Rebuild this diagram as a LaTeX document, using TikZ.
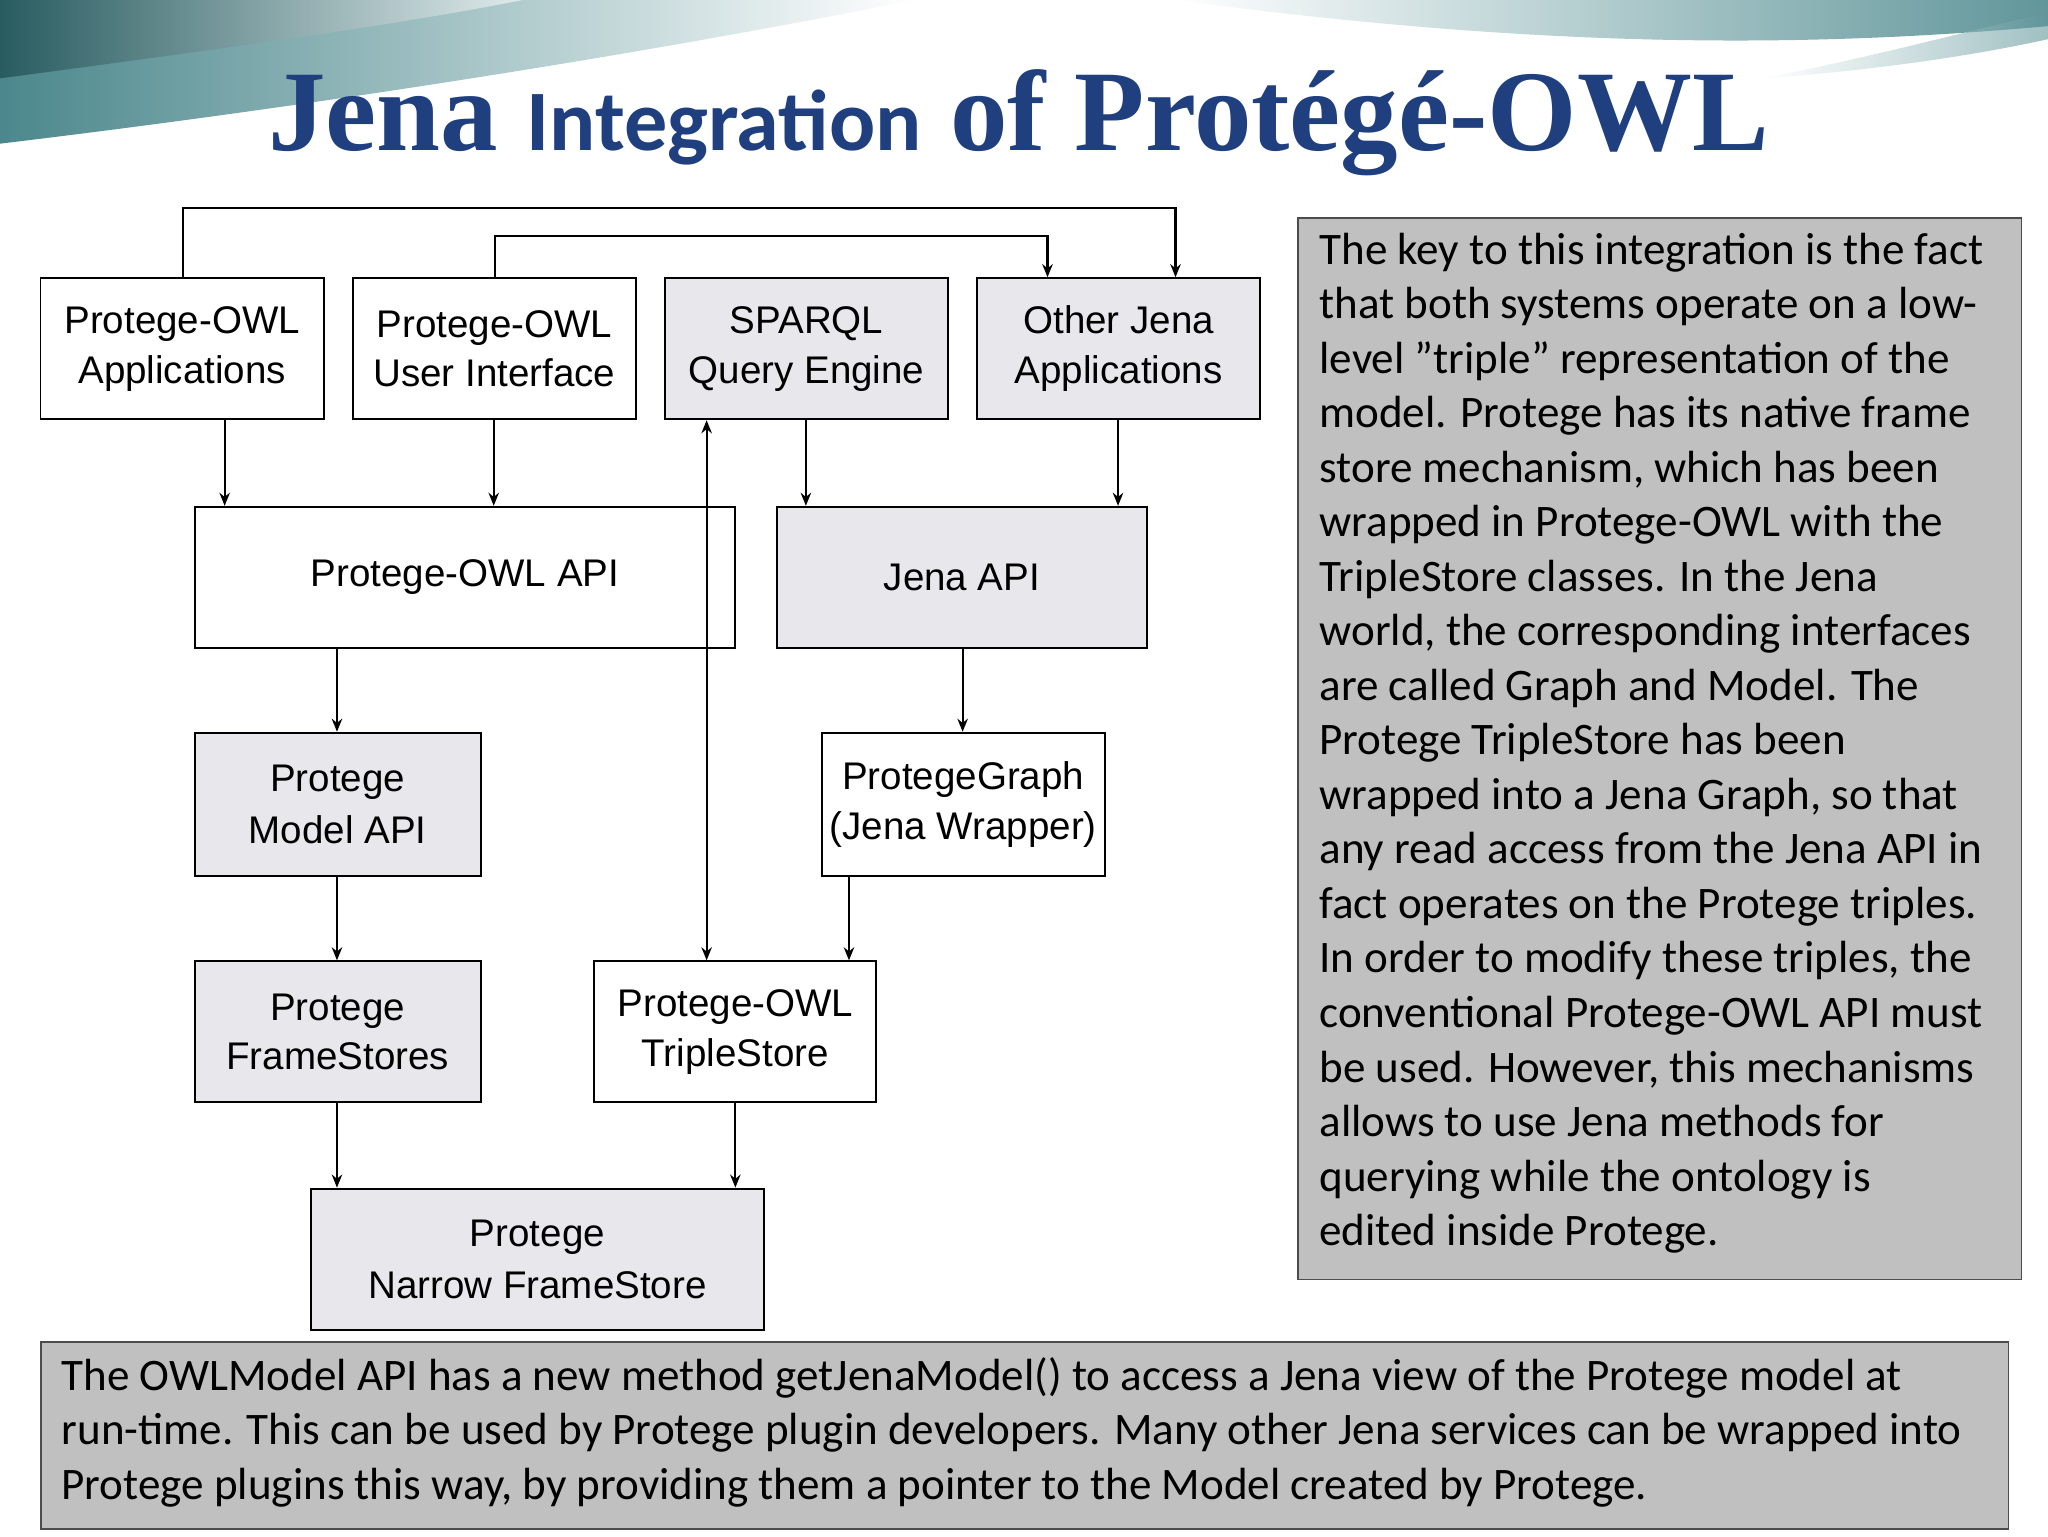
\documentclass[tikz,border=0pt]{standalone}
\usepackage{fontspec}
\setmainfont{Carlito}
\newfontfamily\boxfont{Liberation Sans}
\newfontfamily\titleserif{Liberation Serif}
\newfontfamily\titlesans{Carlito}
\usetikzlibrary{arrows.meta}
\definecolor{boxgray}{HTML}{E8E8EC}
\definecolor{txtgray}{HTML}{C0C0C0}
\definecolor{titleblue}{HTML}{1F3F7F}
\definecolor{teal1}{HTML}{1E6A70}
\tikzset{
 bx/.style={draw=black, line width=1.5pt, inner sep=0pt},
 wbox/.style={bx, fill=white},
 gbox/.style={bx, fill=boxgray},
 ar/.style={line width=1.6pt, -{Stealth[length=10pt,width=8pt]}},
 lb/.style={font=\boxfont\fontsize{29.5}{38}\selectfont, align=center, inner sep=0pt},
}
\newcommand{\mybox}[6]{\node[#1, minimum width=#4-#2, minimum height=#5-#3] (#6) at ({(#2+#4)/2},{(#3+#5)/2}) {};}
\begin{document}
\begin{tikzpicture}[x=1pt,y=-1pt]
\useasboundingbox (0,0) rectangle (1568,1176);
\fill[white] (0,0) rectangle (1568,1176);
% top decoration
\shade[left color=teal1, right color=white, opacity=0.8] (0,0) -- (700,0) .. controls (500,40) and (250,80) .. (0,110) -- cycle;
\shade[left color=teal1!60!black, right color=white, opacity=0.6] (0,0) -- (400,0) .. controls (300,20) and (150,40) .. (0,60) -- cycle;
\shade[left color=white, right color=teal1, opacity=0.7] (900,0) -- (1568,0) -- (1568,20) .. controls (1400,35) and (1200,40) .. (900,0) -- cycle;
\shade[left color=white, right color=teal1!70, opacity=0.6] (1350,60) .. controls (1450,40) and (1520,20) .. (1568,10) -- (1568,30) .. controls (1500,45) and (1420,55) .. (1350,60) -- cycle;
% title
\node[anchor=base west, text=titleblue, inner sep=0pt] (title) at (205,115)
 {\titleserif\bfseries\fontsize{88}{90}\selectfont Jena {\titlesans\bfseries\fontsize{66}{70}\selectfont Integration} of Protégé-OWL};
% boxes
\mybox{wbox}{31}{213}{248}{321}{pa}
\mybox{wbox}{270}{213}{487}{321}{ui}
\mybox{gbox}{509}{213}{726}{321}{sq}
\mybox{gbox}{748}{213}{965}{321}{oj}
\mybox{wbox}{149}{388}{563}{496}{api}
\mybox{gbox}{595}{388}{878}{496}{japi}
\mybox{gbox}{149}{561}{368}{671}{pma}
\mybox{wbox}{629}{561}{846}{671}{pg}
\mybox{gbox}{149}{736}{368}{844}{pfs}
\mybox{wbox}{455}{736}{671}{844}{ts}
\mybox{gbox}{238}{910}{585}{1018}{nfs}
\node[lb] at (pa) {Protege-OWL\\Applications};
\node[lb] at (ui) {Protege-OWL\\User Interface};
\node[lb] at (sq) {SPARQL\\Query Engine};
\node[lb] at (oj) {Other Jena\\Applications};
\node[lb] at (api) {Protege-OWL API};
\node[lb] at (japi) {Jena API};
\node[lb, font=\boxfont\fontsize{29.5}{40}\selectfont] at (pma) {Protege\\Model API};
\node[lb] at (pg) {ProtegeGraph\\(Jena Wrapper)};
\node[lb] at (pfs) {Protege\\FrameStores};
\node[lb] at (ts) {Protege-OWL\\TripleStore};
\node[lb, font=\boxfont\fontsize{29.5}{40}\selectfont] at (nfs) {Protege\\Narrow FrameStore};
% connectors
\draw[ar] (pa.north -| 140,0) -- (140,159) -- (900,159) -- (oj.north -| 900,0);
\draw[ar] (ui.north -| 379,0) -- (379,181) -- (802,181) -- (oj.north -| 802,0);
\draw[ar] (pa.south -| 172,0) -- (api.north -| 172,0);
\draw[ar] (ui.south -| 378,0) -- (api.north -| 378,0);
\draw[ar] (sq.south -| 617,0) -- (japi.north -| 617,0);
\draw[ar] (oj.south -| 856,0) -- (japi.north -| 856,0);
\draw[line width=1.6pt, {Stealth[length=10pt,width=8pt]}-{Stealth[length=10pt,width=8pt]}] (sq.south -| 541,0) -- (ts.north -| 541,0);
\draw[ar] (api.south -| 258,0) -- (pma.north -| 258,0);
\draw[ar] (japi.south -| 737,0) -- (pg.north -| 737,0);
\draw[ar] (pma.south -| 258,0) -- (pfs.north -| 258,0);
\draw[ar] (pg.south -| 650,0) -- (ts.north -| 650,0);
\draw[ar] (pfs.south -| 258,0) -- (nfs.north -| 258,0);
\draw[ar] (ts.south -| 563,0) -- (nfs.north -| 563,0);
% text boxes
\node[draw=black!70, line width=1.3pt, fill=txtgray, minimum width=554, minimum height=813, anchor=north west, inner sep=0pt] (rt) at (993,166) {};
\node[anchor=north west, align=left, inner sep=0pt, font=\fontsize{34.5}{41.75}\selectfont] (rtt) at (1010,178) {The key to this integration is the fact\\that both systems operate on a low-\\level \symbol{"22}triple\symbol{"22} representation of the\\model. Protege has its native frame\\store mechanism, which has been\\wrapped in Protege-OWL with the\\TripleStore classes. In the Jena\\world, the corresponding interfaces\\are called Graph and Model. The\\Protege TripleStore has been\\wrapped into a Jena Graph, so that\\any read access from the Jena API in\\fact operates on the Protege triples.\\In order to modify these triples, the\\conventional Protege-OWL API must\\be used. However, this mechanisms\\allows to use Jena methods for\\querying while the ontology is\\edited inside Protege.};
\node[draw=black!70, line width=1.3pt, fill=txtgray, minimum width=1506, minimum height=143, anchor=north west, inner sep=0pt] (bt) at (31,1027) {};
\node[anchor=north west, align=left, inner sep=0pt, font=\fontsize{34.5}{41.75}\selectfont] (btt) at (47,1039) {The OWLModel API has a new method getJenaModel() to access a Jena view of the Protege model at\\run-time. This can be used by Protege plugin developers. Many other Jena services can be wrapped into\\Protege plugins this way, by providing them a pointer to the Model created by Protege.};
\end{tikzpicture}
\end{document}
